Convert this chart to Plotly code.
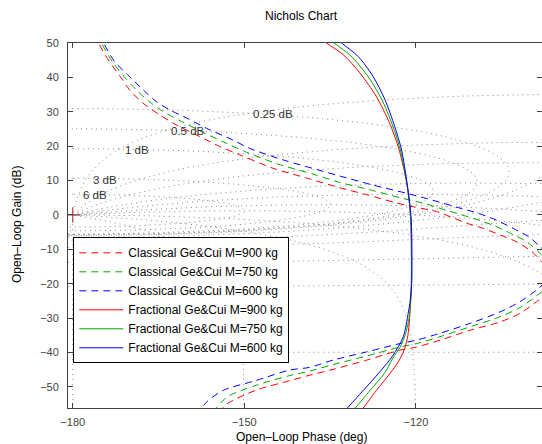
import numpy as np
import plotly.graph_objects as go

# ---------------- data ----------------
series_names = [
    "Classical Ge&Cui M=900 kg",
    "Classical Ge&Cui M=750 kg",
    "Classical Ge&Cui M=600 kg",
    "Fractional Ge&Cui M=900 kg",
    "Fractional Ge&Cui M=750 kg",
    "Fractional Ge&Cui M=600 kg",
]

cls900_phase = [-176.3, -175.5, -173.6, -171.5, -170.1, -167.7, -164.8, -161.9, -157.8, -154.3, -150.8,
                -145.0, -138.6, -133.3, -128.6, -123.4, -120.5, -116.4, -114.0, -111.1, -108.2, -105.3,
                -102.4, -99.7, -98.0, -94.5,
                -98.9, -101.8, -105.3, -110.5, -115.8, -119.9, -122.8, -128.6, -134.5, -138.6, -142.1,
                -147.9, -153.1, -154.5]
cls900_gain = [52.5, 50.0, 44.6, 39.8, 36.4, 32.5, 29.1, 26.2, 22.8, 19.9, 17.5,
               13.6, 10.5, 7.9, 5.9, 3.5, 2.4, 1.0, -0.5, -2.4, -3.9, -5.8,
               -7.8, -10.7, -13.6, -19.5,
               -25.2, -28.6, -31.1, -33.5, -36.4, -38.4, -39.3, -42.2, -44.9, -46.6, -48.2,
               -50.9, -55.0, -57.5]

cls750_phase = [-175.8, -175.0, -173.1, -171.0, -168.9, -166.5, -164.0, -161.0, -157.2, -153.2, -150.0,
                -144.1, -137.8, -133.6, -128.0, -122.5, -118.4, -115.5, -112.5, -109.5, -106.5, -103.5,
                -100.6, -98.2, -94.7,
                -98.9, -101.8, -105.3, -110.5, -115.8, -119.9, -122.8, -128.6, -134.5, -138.6, -142.1,
                -147.9, -153.1, -155.5]
cls750_gain = [52.5, 50.0, 44.6, 40.2, 36.4, 32.8, 29.9, 27.2, 24.0, 20.9, 18.5,
               14.8, 11.8, 9.6, 7.3, 4.9, 3.3, 1.8, 0.3, -1.25, -3.0, -5.3,
               -7.8, -11.3, -17.0,
               -23.5, -26.9, -29.6, -32.5, -35.4, -37.4, -38.4, -41.0, -43.5, -45.4, -46.7,
               -49.5, -53.0, -57.5]

cls600_phase = [-175.4, -174.6, -172.7, -170.4, -167.7, -165.4, -163.1, -160.1, -156.6, -152.0, -149.1,
                -143.2, -137.1, -133.9, -127.5, -121.6, -118.4, -115.2, -112.3, -109.1, -105.9, -103.0,
                -100.3, -98.3, -95.0,
                -98.9, -101.8, -105.3, -110.5, -115.8, -119.9, -122.8, -128.6, -134.5, -138.6, -142.1,
                -147.9, -153.7, -156.6, -158.0]
cls600_gain = [52.5, 50.0, 44.6, 40.8, 36.4, 33.0, 30.6, 28.2, 25.2, 21.8, 19.4,
               16.0, 13.1, 11.6, 8.7, 6.3, 4.9, 3.4, 2.0, 0.5, -1.5, -3.9,
               -6.3, -9.2, -15.0,
               -21.8, -25.2, -28.2, -31.5, -34.4, -36.4, -37.4, -39.8, -42.2, -44.3, -45.1,
               -48.1, -51.0, -54.4, -57.5]

frac900_phase = [-137.5, -135.6, -132.7, -129.8, -126.9, -124.6, -123.1, -122.2, -121.6, -121.2, -120.9,
                 -120.8, -120.8, -120.95, -121.1, -121.4, -122.0, -123.0, -124.55, -126.9, -129.3, -130.2]
frac900_gain = [53.0, 50.0, 46.6, 41.3, 34.4, 26.7, 19.9, 14.1, 9.2, 4.4, -1.4,
                -10.0, -20.0, -26.0, -30.0, -35.0, -39.0, -42.5, -46.1, -51.0, -56.3, -58.0]

frac750_phase = [-136.3, -134.3, -131.4, -128.6, -126.1, -124.1, -122.8, -122.0, -121.45, -121.05, -120.85,
                 -120.75, -120.75, -120.95, -121.2, -121.8, -122.8, -124.0, -125.4, -128.0, -130.7, -131.6]
frac750_gain = [53.0, 50.0, 46.3, 40.8, 34.0, 26.2, 19.4, 13.1, 7.8, 2.4, -3.0,
                -10.0, -20.0, -26.0, -30.0, -34.5, -38.5, -41.5, -45.8, -51.0, -56.3, -58.0]

frac600_phase = [-135.0, -133.0, -130.1, -127.5, -125.4, -123.7, -122.5, -121.8, -121.3, -120.9, -120.75,
                 -120.7, -120.75, -121.0, -121.35, -122.2, -124.0, -126.3, -129.2, -132.1, -133.2]
frac600_gain = [53.0, 50.0, 46.1, 40.3, 33.5, 25.7, 18.9, 12.1, 6.3, 0.5, -4.5,
                -10.0, -20.0, -25.0, -28.6, -35.4, -40.8, -45.6, -51.0, -56.3, -58.0]

# Nichols grid levels (closed-loop gain in dB, closed-loop phase in deg)
m_levels_db = [6, 3, 1, 0.5, 0.25, 0, -1, -3, -6, -12, -20, -40, -60]
n_levels_deg = [-1, -5, -10, -20, -30, -45, -60, -90, -120, -150, -180]
grid_labels = ["6 dB", "3 dB", "1 dB", "0.5 dB", "0.25 dB"]
grid_label_phase = [-178.5, -176.8, -171.3, -163.1, -148.8]
grid_label_gain = [5.8, 10.3, 18.9, 24.4, 29.4]

x_ticks = [-180, -150, -120, -90]
y_ticks = [-50, -40, -30, -20, -10, 0, 10, 20, 30, 40, 50]

# ---------------- figure ----------------
FONT = "Liberation Sans, Arial, Helvetica, sans-serif"
W, H = 542, 444
ML, MR, MT, MB = 68, 0, 43, 36
PW, PH = W - ML - MR, H - MT - MB
fig = go.Figure()


def wrap(p):
    return np.mod(p, 360.0) - 360.0


def add_broken(xs, ys):
    px, py = [], []
    for i in range(len(xs)):
        if i > 0 and abs(xs[i] - xs[i - 1]) > 180:
            px.append(None)
            py.append(None)
        px.append(float(xs[i]))
        py.append(float(ys[i]))
    return px, py


gx, gy = [], []
for g in m_levels_db:
    M = 10 ** (g / 20.0)
    if g == 0:
        th = np.linspace(-359.95, -0.05, 3000)
    else:
        th = np.linspace(-360.0, 0.0, 3000)
    T = M * np.exp(1j * np.deg2rad(th))
    L = T / (1 - T)
    ph = wrap(np.rad2deg(np.angle(L)))
    mg = 20 * np.log10(np.abs(L))
    a, b = add_broken(ph, mg)
    gx += a + [None]
    gy += b + [None]

mcl = np.logspace(-4, 3, 3000)
for th0 in n_levels_deg:
    T = mcl * np.exp(1j * np.deg2rad(th0))
    L = T / (1 - T)
    ph = wrap(np.rad2deg(np.angle(L)))
    mg = 20 * np.log10(np.abs(L))
    a, b = add_broken(ph, mg)
    gx += a + [None]
    gy += b + [None]

fig.add_trace(go.Scatter(x=gx, y=gy, mode="lines", showlegend=False, hoverinfo="skip",
                         line=dict(color="#888888", width=1, dash="1px,4px")))

colors = ["#ff0000", "#00aa00", "#0000ff"]
cls_data = [(cls900_phase, cls900_gain), (cls750_phase, cls750_gain), (cls600_phase, cls600_gain)]
frac_data = [(frac900_phase, frac900_gain), (frac750_phase, frac750_gain), (frac600_phase, frac600_gain)]

for i, (xp, yg) in enumerate(cls_data):
    fig.add_trace(go.Scatter(x=xp, y=yg, mode="lines", name=series_names[i],
                             line=dict(color=colors[i], width=1, dash="7px,5px", shape="spline", smoothing=0.8)))
for i, (xp, yg) in enumerate(frac_data):
    fig.add_trace(go.Scatter(x=xp, y=yg, mode="lines", name=series_names[3 + i],
                             line=dict(color=colors[i], width=1, shape="spline", smoothing=0.8)))

# critical point
fig.add_trace(go.Scatter(x=[-180], y=[0], mode="markers", showlegend=False, hoverinfo="skip",
                         marker=dict(symbol="cross-thin", size=11, line=dict(color="#a02828", width=1))))

for t, xp, yg in zip(grid_labels, grid_label_phase, grid_label_gain):
    fig.add_annotation(x=xp, y=yg, text=t, showarrow=False, xanchor="left", yanchor="middle",
                       font=dict(family=FONT, size=11.5, color="#333333"))

# axis titles as paper annotations
fig.add_annotation(xref="paper", yref="paper", x=(301.5 - ML) / PW, y=-(437 - (MT + PH)) / PH,
                   text="Open\u2013Loop Phase (deg)", showarrow=False, xanchor="center", yanchor="middle",
                   font=dict(family=FONT, size=12, color="#000000"))
fig.add_annotation(xref="paper", yref="paper", x=(17 - ML) / PW, y=(MT + PH - 225) / PH,
                   text="Open\u2013Loop Gain (dB)", showarrow=False, xanchor="center", yanchor="middle",
                   textangle=-90, font=dict(family=FONT, size=12, color="#000000"))

fig.update_layout(
    width=W, height=H,
    margin=dict(l=ML, r=MR, t=MT, b=MB, autoexpand=False),
    plot_bgcolor="white", paper_bgcolor="white",
    font=dict(family=FONT, size=11, color="#333333"),
    title=dict(text="Nichols Chart", x=301 / W, xanchor="center", y=1 - 15.5 / H, yanchor="middle",
               font=dict(family=FONT, size=12, color="#000000")),
    showlegend=True,
    legend=dict(x=(73.3 - ML) / PW, y=(MT + PH - 237.3) / PH, xanchor="left", yanchor="top", bgcolor="white",
                bordercolor="#000000", borderwidth=1, font=dict(family=FONT, size=12, color="#000000"),
                tracegroupgap=0, itemwidth=44),
)
fig.update_xaxes(range=[-180.83, -97.95], tickvals=x_ticks, ticks="inside", ticklen=5,
                 showline=True, linecolor="#404040", linewidth=1, mirror="ticks", showgrid=False,
                 zeroline=False, tickcolor="#404040", tickfont=dict(size=11, color="#444444"),
                 ticklabelstandoff=4)
fig.update_yaxes(range=[-56.12, 50], tickvals=y_ticks, ticks="inside", ticklen=5,
                 showline=True, linecolor="#404040", linewidth=1, mirror="ticks", showgrid=False,
                 zeroline=False, tickcolor="#404040", tickfont=dict(size=11, color="#444444"),
                 ticklabelstandoff=6)

fig.write_html("out.html", config={"displayModeBar": False},
               post_script="document.body.style.margin='0';document.body.style.overflow='hidden';")
